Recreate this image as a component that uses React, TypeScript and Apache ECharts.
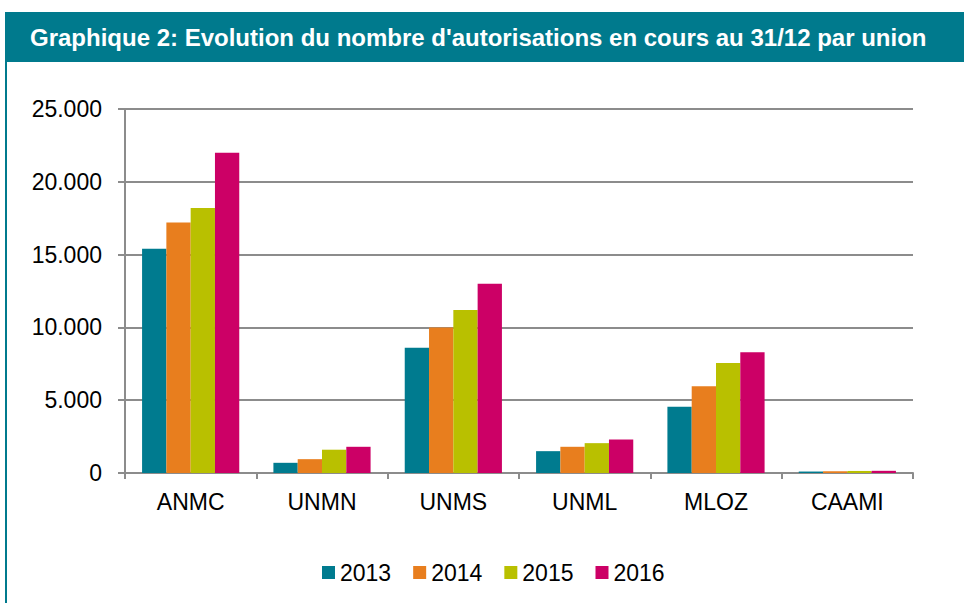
import React, { useEffect, useRef } from "react";
import * as echarts from "echarts";

const categories = ["ANMC", "UNMN", "UNMS", "UNML", "MLOZ", "CAAMI"];
const years = ["2013", "2014", "2015", "2016"];
const v2013 = [15400, 700, 8600, 1500, 4550, 100];
const v2014 = [17200, 950, 10000, 1800, 5950, 120];
const v2015 = [18200, 1600, 11200, 2050, 7550, 140];
const v2016 = [22000, 1800, 13000, 2300, 8300, 150];
const colors = ["#007B8F", "#E87E1E", "#B9C000", "#CC0066"];
const titleText = "Graphique 2: Evolution du nombre d'autorisations en cours au 31/12 par union";

const fmt = (v: number) => {
  const s = String(Math.round(v));
  return s.replace(/\B(?=(\d{3})+(?!\d))/g, ".");
};

export default function App() {
  const ref = useRef<HTMLDivElement>(null);
  useEffect(() => {
    document.body.style.margin = "0";
    const chart = echarts.init(ref.current!, undefined, { renderer: "svg" });
    const seriesData = [v2013, v2014, v2015, v2016];
    chart.setOption({
      animation: false,
      textStyle: { fontFamily: "Liberation Sans, Arial, sans-serif" },
      color: colors,
      graphic: [
        { type: "rect", shape: { x: 5, y: 12, width: 959, height: 50 }, style: { fill: "#007A8D" } },
        { type: "rect", shape: { x: 5, y: 62, width: 2, height: 541 }, style: { fill: "#007A8D" } },
        {
          type: "text",
          x: 30,
          y: 37,
          style: {
            text: titleText,
            fill: "#ffffff",
            font: "bold 24px 'Liberation Sans', Arial, sans-serif",
            verticalAlign: "middle",
          },
        },
      ],
      grid: { left: 125, right: 51, top: 109, bottom: 130, containLabel: false },
      legend: {
        data: years,
        left: 317,
        top: 556,
        itemWidth: 13,
        itemHeight: 13,
        itemGap: 22,
        icon: "rect",
        textStyle: { fontSize: 23, color: "#000" },
      },
      xAxis: {
        type: "category",
        data: categories,
        axisLine: { lineStyle: { color: "#8c8c8c", width: 2 } },
        axisTick: { show: true, length: 6, alignWithLabel: false, lineStyle: { color: "#8c8c8c", width: 2 } },
        axisLabel: { fontSize: 23, color: "#000", margin: 17 },
      },
      yAxis: {
        type: "value",
        min: 0,
        max: 25000,
        interval: 5000,
        axisLine: { show: true, lineStyle: { color: "#8c8c8c", width: 2 } },
        axisTick: { show: true, length: 7, lineStyle: { color: "#8c8c8c", width: 2 } },
        splitLine: { lineStyle: { color: "#8c8c8c", width: 2 } },
        axisLabel: { fontSize: 23, color: "#000", margin: 23, formatter: (v: number) => fmt(v) },
      },
      series: years.map((y, i) => ({
        name: y,
        type: "bar",
        data: seriesData[i],
        barGap: "0%",
        barCategoryGap: "26%",
        itemStyle: { color: colors[i] },
      })),
    });
    return () => chart.dispose();
  }, []);
  return <div ref={ref} style={{ width: 964, height: 603 }} />;
}
